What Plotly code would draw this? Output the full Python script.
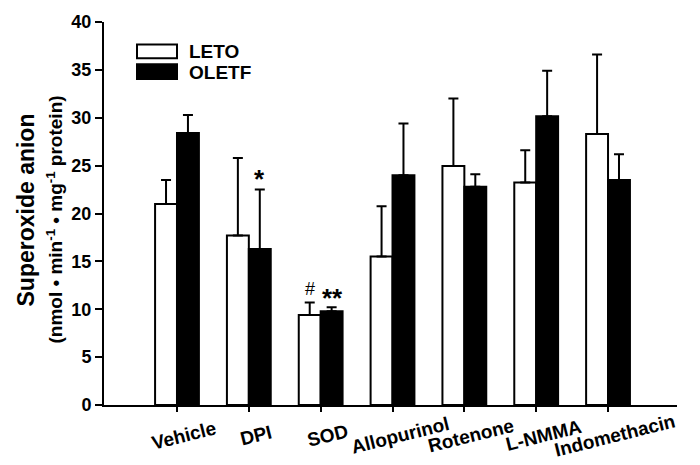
import plotly.graph_objects as go

categories = ["Vehicle", "DPI", "SOD", "Allopurinol", "Rotenone", "L-NMMA", "Indomethacin"]
leto_mean = [21.0, 17.7, 9.4, 15.5, 24.95, 23.25, 28.3]
leto_sem = [2.5, 8.1, 1.3, 5.25, 7.05, 3.35, 8.3]
oletf_mean = [28.4, 16.3, 9.8, 24.0, 22.8, 30.15, 23.5]
oletf_sem = [1.9, 6.2, 0.4, 5.4, 1.3, 4.75, 2.7]
y_ticks = [0, 5, 10, 15, 20, 25, 30, 35, 40]

FONT = "Liberation Sans"
W, H = 700, 465
ML, MR, MT, MB = 104, 23, 15, 60
PW, PH = W - ML - MR, H - MT - MB

def px2paper_x(px):
    return (px - ML) / PW

def px2paper_y(py):
    return (H - MB - py) / PH

fig = go.Figure()
fig.add_trace(go.Bar(
    x=categories, y=leto_mean, name="LETO",
    marker=dict(color="white", line=dict(color="black", width=2)),
    error_y=dict(type="data", array=leto_sem, arrayminus=[0] * len(leto_sem),
                 symmetric=False, color="black", thickness=2, width=5),
    showlegend=False,
))
fig.add_trace(go.Bar(
    x=categories, y=oletf_mean, name="OLETF",
    marker=dict(color="black", line=dict(color="black", width=2)),
    error_y=dict(type="data", array=oletf_sem, arrayminus=[0] * len(oletf_sem),
                 symmetric=False, color="black", thickness=2, width=5),
    showlegend=False,
))

annotations = []
# x tick labels (rotated)
for c in categories:
    annotations.append(dict(
        x=c, y=0, xref="x", yref="y", text="<b>%s</b>" % c, showarrow=False,
        textangle=-14, xanchor="center", yanchor="middle",
        xshift=7, yshift=-30,
        font=dict(family=FONT, size=19, color="black"),
    ))

# y-axis titles
annotations.append(dict(
    x=0, y=0.5, xref="paper", yref="paper", text="<b>Superoxide anion</b>",
    showarrow=False, textangle=-90, xanchor="center", yanchor="middle",
    xshift=-79, yshift=3,
    font=dict(family=FONT, size=23, color="black"),
))
annotations.append(dict(
    x=0, y=0.5, xref="paper", yref="paper",
    text="<b>(nmol • min<sup>-1</sup> • mg<sup>-1</sup> protein)</b>",
    showarrow=False, textangle=-90, xanchor="center", yanchor="middle",
    xshift=-50, yshift=-6,
    font=dict(family=FONT, size=19, color="black"),
))

# significance marks
annotations.append(dict(
    x="DPI", y=oletf_mean[1] + oletf_sem[1], xref="x", yref="y", text="<b>*</b>",
    showarrow=False, xanchor="center", yanchor="bottom", xshift=11, yshift=-6,
    font=dict(family=FONT, size=26, color="black"),
))
annotations.append(dict(
    x="SOD", y=leto_mean[2] + leto_sem[2], xref="x", yref="y", text="#",
    showarrow=False, xanchor="center", yanchor="bottom", xshift=-11, yshift=2,
    font=dict(family=FONT, size=18, color="black"),
))
annotations.append(dict(
    x="SOD", y=oletf_mean[2] + oletf_sem[2], xref="x", yref="y", text="<b>**</b>",
    showarrow=False, xanchor="center", yanchor="bottom", xshift=12, yshift=-8,
    font=dict(family=FONT, size=26, color="black"),
))

# legend (manual)
shapes = [
    dict(type="rect", xref="paper", yref="paper",
         x0=px2paper_x(137), x1=px2paper_x(177), y0=px2paper_y(52), y1=px2paper_y(38),
         fillcolor="white", line=dict(color="black", width=2)),
    dict(type="rect", xref="paper", yref="paper",
         x0=px2paper_x(137), x1=px2paper_x(177), y0=px2paper_y(73), y1=px2paper_y(58),
         fillcolor="black", line=dict(color="black", width=2)),
]
for label, py in [("LETO", 45), ("OLETF", 66)]:
    annotations.append(dict(
        x=px2paper_x(187), y=px2paper_y(py), xref="paper", yref="paper",
        text="<b>%s</b>" % label, showarrow=False, xanchor="left", yanchor="middle",
        font=dict(family=FONT, size=19, color="black"),
    ))

fig.update_layout(
    width=W, height=H,
    margin=dict(l=ML, r=MR, t=MT, b=MB, pad=0),
    paper_bgcolor="white", plot_bgcolor="white",
    barmode="group", bargap=0.39, bargroupgap=0,
    font=dict(family=FONT, color="black"),
    annotations=annotations, shapes=shapes,
    xaxis=dict(
        type="category", categoryorder="array", categoryarray=categories,
        range=[-1.016, 6.96], showline=True, linecolor="black", linewidth=2,
        ticks="outside", ticklen=5, tickwidth=2, tickcolor="black",
        showticklabels=False, showgrid=False, zeroline=False,
    ),
    yaxis=dict(
        range=[0, 40], tickvals=y_ticks, showline=True, linecolor="black", linewidth=2,
        ticks="outside", ticklen=7, tickwidth=2, tickcolor="black",
        tickfont=dict(family=FONT, size=18, color="black", weight="bold"),
        showgrid=False, zeroline=False,
    ),
)

fig.write_html("out.html", config={"displayModeBar": False},
               post_script="document.body.style.margin='0px';")
